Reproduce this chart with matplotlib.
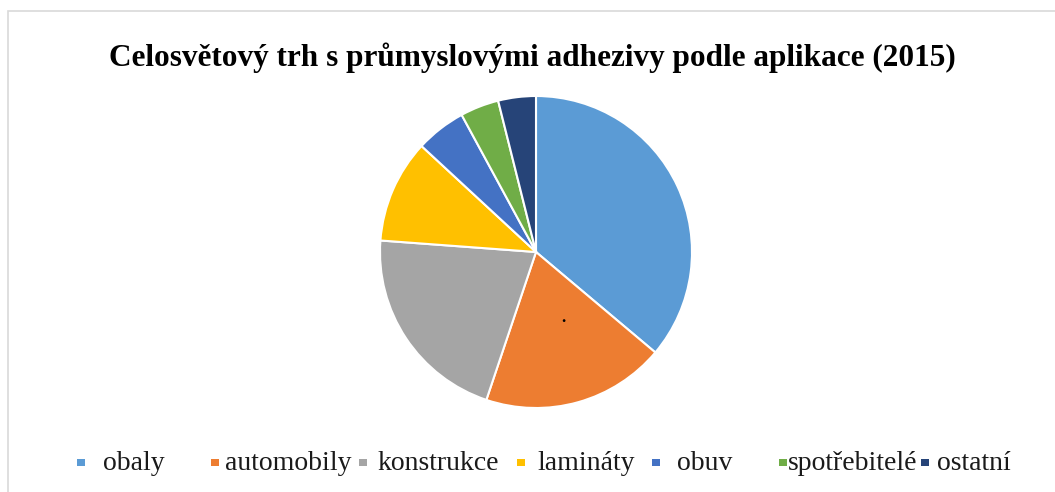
import matplotlib.pyplot as plt
from matplotlib.patches import Rectangle

# data (share, %)
labels = ['obaly', 'automobily', 'konstrukce', 'lamináty', 'obuv', 'spotřebitelé', 'ostatní']
shares = [36.1, 19.0, 21.0, 10.7, 5.2, 4.0, 3.9]
colors = ['#5B9BD5', '#ED7D31', '#A5A5A5', '#FFC000', '#4472C4', '#70AD47', '#264478']
title = 'Celosvětový trh s průmyslovými adhezivy podle aplikace (2015)'

W, H = 1055, 492
fig = plt.figure(figsize=(W / 100, H / 100), dpi=100)
plt.rcParams['font.family'] = ['Liberation Serif', 'DejaVu Serif']

# light frame of the chart area
fig.patches.append(Rectangle((8 / W, -0.05), 1.1, 1 - 11 / H + 0.05, transform=fig.transFigure,
                             fill=False, edgecolor='#d9d9d9', linewidth=1.2))

# pie centred at (536, 252) px, radius 156 px
cx, cy, r = 536, 252, 156
ax = fig.add_axes([(cx - r) / W, (H - cy - r) / H, 2 * r / W, 2 * r / H])
ax.pie(shares, colors=colors, startangle=90, counterclock=False, radius=1,
       wedgeprops=dict(edgecolor='white', linewidth=1.5))
ax.set_xlim(-1, 1)
ax.set_ylim(-1, 1)
ax.axis('off')

fig.text(532 / W, 1 - 58 / H, title, ha='center', va='center', fontsize=22.5, fontweight='bold')

# stray dot in the orange slice
fig.text(563 / W, 1 - 322 / H, '.', ha='center', va='baseline', fontsize=12, fontweight='bold')

# legend, placed like the original
marker_x = [81, 215, 363, 521, 656, 783, 925]
text_x = [103, 225, 378, 537, 677, 788, 937]
ly = 463
for lab, col, mx, tx in zip(labels, colors, marker_x, text_x):
    fig.patches.append(Rectangle(((mx - 4) / W, 1 - (ly + 3) / H), 8 / W, 7 / H,
                                 transform=fig.transFigure, facecolor=col, edgecolor='none'))
    fig.text(tx / W, 1 - ly / H, lab, ha='left', va='center', fontsize=20, color='#1a1a1a')

fig.savefig('out.png', dpi=100)
